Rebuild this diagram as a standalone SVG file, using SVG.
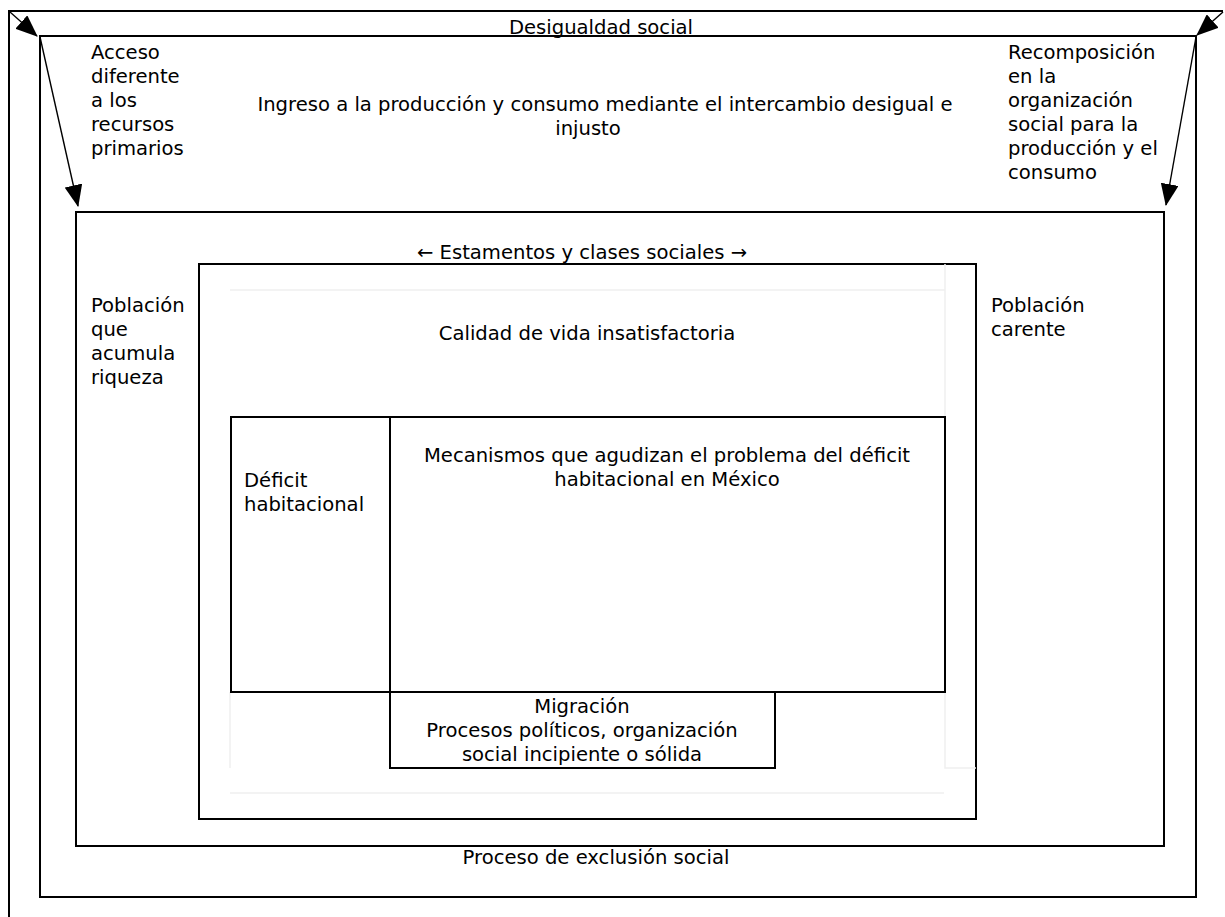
<svg xmlns="http://www.w3.org/2000/svg" width="1225" height="917" viewBox="0 0 1225 917">
  <defs>
    <marker id="ah" markerUnits="userSpaceOnUse" markerWidth="22" markerHeight="18" viewBox="0 0 22 18" refX="21" refY="9" orient="auto">
      <path d="M0,0 L22,9 L0,18 Z" fill="#000"/>
    </marker>
    <style>
      .frame { fill: none; stroke: #000; stroke-width: 2; }
      .faint { fill: none; stroke: #f0f0f0; stroke-width: 1.5; }
      .conn { fill: none; stroke: #000; stroke-width: 1.4; marker-end: url(#ah); }
      text { font-family: "DejaVu Sans", "Liberation Sans", sans-serif; font-size: 19.6px; fill: #000; }
      .c { text-anchor: middle; }
    </style>
  </defs>
  <rect width="1225" height="917" fill="#fff"/>

  <g id="desigualdad">
    <path class="frame" d="M9,917 L9,11 L1223,11"/>
    <text class="c" x="601" y="34">Desigualdad social</text>
  </g>

  <g id="exclusion">
    <rect class="frame" x="40" y="36" width="1156" height="861"/>
    <text x="91" y="59">Acceso</text>
    <text x="91" y="83">diferente</text>
    <text x="91" y="107">a los</text>
    <text x="91" y="131">recursos</text>
    <text x="91" y="155">primarios</text>
    <text class="c" x="605" y="111">Ingreso a la producción y consumo mediante el intercambio desigual e</text>
    <text class="c" x="588" y="135">injusto</text>
    <text x="1008" y="59">Recomposición</text>
    <text x="1008" y="83">en la</text>
    <text x="1008" y="107">organización</text>
    <text x="1008" y="131">social para la</text>
    <text x="1008" y="155">producción y el</text>
    <text x="1008" y="179">consumo</text>
    <text class="c" x="596" y="864">Proceso de exclusión social</text>
  </g>

  <g id="estamentos">
    <rect class="frame" x="76" y="212" width="1088" height="634"/>
    <text class="c" x="582" y="259">← Estamentos y clases sociales →</text>
    <text x="91" y="312">Población</text>
    <text x="91" y="336">que</text>
    <text x="91" y="360">acumula</text>
    <text x="91" y="384">riqueza</text>
    <text x="991" y="312">Población</text>
    <text x="991" y="336">carente</text>
  </g>

  <g id="calidad">
    <rect class="frame" x="199" y="264" width="777" height="555"/>
    <path class="faint" d="M230,290 L945,290 M945,264 L945,768 L976,768 M230,692 L230,768 M230,793 L944,793"/>
    <text class="c" x="587" y="340">Calidad de vida insatisfactoria</text>
  </g>

  <g id="deficit">
    <rect class="frame" x="231" y="417" width="159" height="275"/>
    <text x="244" y="487">Déficit</text>
    <text x="244" y="511">habitacional</text>
  </g>

  <g id="mecanismos">
    <rect class="frame" x="390" y="417" width="555" height="275"/>
    <text class="c" x="667" y="462">Mecanismos que agudizan el problema del déficit</text>
    <text class="c" x="667" y="486">habitacional en México</text>
  </g>

  <g id="migracion">
    <rect class="frame" x="390" y="692" width="385" height="76"/>
    <text class="c" x="582" y="713">Migración</text>
    <text class="c" x="582" y="737">Procesos políticos, organización</text>
    <text class="c" x="582" y="761">social incipiente o sólida</text>
  </g>

  <g id="connectors">
    <line class="conn" x1="10" y1="12" x2="37" y2="36"/>
    <line class="conn" x1="40" y1="37" x2="78" y2="206"/>
    <line class="conn" x1="1223" y1="12" x2="1197" y2="35"/>
    <line class="conn" x1="1196" y1="37" x2="1166" y2="205"/>
  </g>
</svg>
